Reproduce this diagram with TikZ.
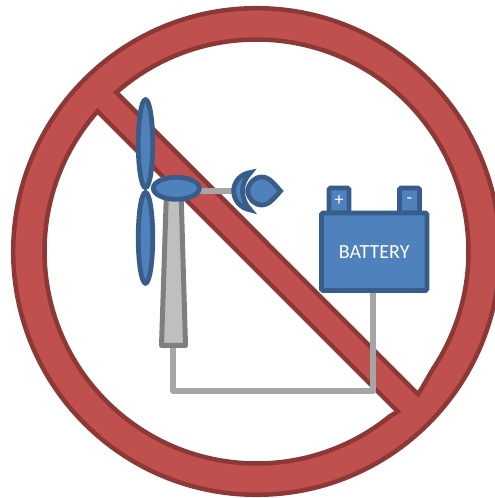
\documentclass[tikz,border=0pt]{standalone}
\usepackage{fontspec}
\setmainfont{Carlito}
\definecolor{redfill}{HTML}{C0504D}
\definecolor{redline}{HTML}{8C3836}
\definecolor{bluefill}{HTML}{4F81BD}
\definecolor{blueline}{HTML}{385D8A}
\definecolor{towerfill}{HTML}{BFBFBF}
\definecolor{towerline}{HTML}{7F7F7F}
\definecolor{wirecolor}{HTML}{A6A6A6}
\tikzset{
  signshape/.style={fill=redfill,draw=redline,line width=4.5pt,even odd rule,miter limit=10},
  bluepart/.style={fill=bluefill,draw=blueline,line width=4.8pt,miter limit=10},
  towerpart/.style={fill=towerfill,draw=towerline,line width=5pt,line join=round},
  wire/.style={draw=wirecolor,line width=6pt,line join=round},
  batterybox/.style={bluepart,rectangle,rounded corners=1.5pt,inner sep=0pt,text=white,font=\fontsize{20}{20}\selectfont},
  terminal/.style={batterybox,minimum width=20pt,minimum height=25pt,font=\fontsize{18}{18}\selectfont}
}
\begin{document}
\begin{tikzpicture}[x=1pt,y=1pt]
\useasboundingbox (0,0) rectangle (495,498);
\clip (0,0) rectangle (495,498);
% prohibition sign
\path[signshape]
  (256.5,246.5) circle[radius=243.3pt]
  ([shift={(256.5,246.5)}]131.4:212) arc[start angle=131.4,end angle=-33,radius=212pt] .. controls (428.85,122.6) and (423,111) .. (418,103.8) -- cycle
  ([shift={(256.5,246.5)}]138.6:212) arc[start angle=138.6,end angle=309,radius=212pt] -- (397.7,86.5) -- cycle;
% tower and wires
\coordinate (towerbase) at (173.3,150);
\coordinate (wirecornerA) at (173.3,107);
\coordinate (wirecornerB) at (373,107);
\coordinate (batterywire) at (373,208);
\draw[wire] (towerbase) -- (wirecornerA) -- (wirecornerB) -- (batterywire);
\draw[towerpart] (161.5,152.5) -- (185.5,152.5) -- (181,308) -- (166.5,308) -- cycle;
\coordinate (hubwire) at (198,307);
\coordinate (nosewire) at (248,307);
\draw[wire] (hubwire) -- (nosewire);
% blades and hub
\draw[bluepart] (145.5,354.35) ellipse[x radius=7.25pt,y radius=44pt];
\draw[bluepart] (145.5,260.15) ellipse[x radius=7.25pt,y radius=45.4pt];
\draw[bluepart] (176.3,309.7) ellipse[x radius=23pt,y radius=11pt];
% crescent and drop
\draw[bluepart] (250.5,325.5) .. controls (240,324) and (233.7,316) .. (233.7,307)
  .. controls (233.7,298) and (240,290) .. (250.5,288)
  .. controls (245.5,293) and (242.5,300) .. (242.5,307)
  .. controls (242.5,314) and (245.5,320) .. cycle;
\draw[bluepart] (280.5,307) .. controls (275,313) and (269.5,321) .. (262,321)
  arc[start angle=90,end angle=270,radius=14pt]
  .. controls (269.5,293) and (275,301) .. cycle;
% battery
\node[terminal] (plus) at (339,297.5) {+};
\node[terminal] (minus) at (409.5,297.5) {-};
\node[batterybox,minimum width=105.5pt,minimum height=77.5pt,text depth=0pt] (battery) at (374.25,246.25) {\raisebox{-1.5pt}{BATTERY}};
\end{tikzpicture}
\end{document}
